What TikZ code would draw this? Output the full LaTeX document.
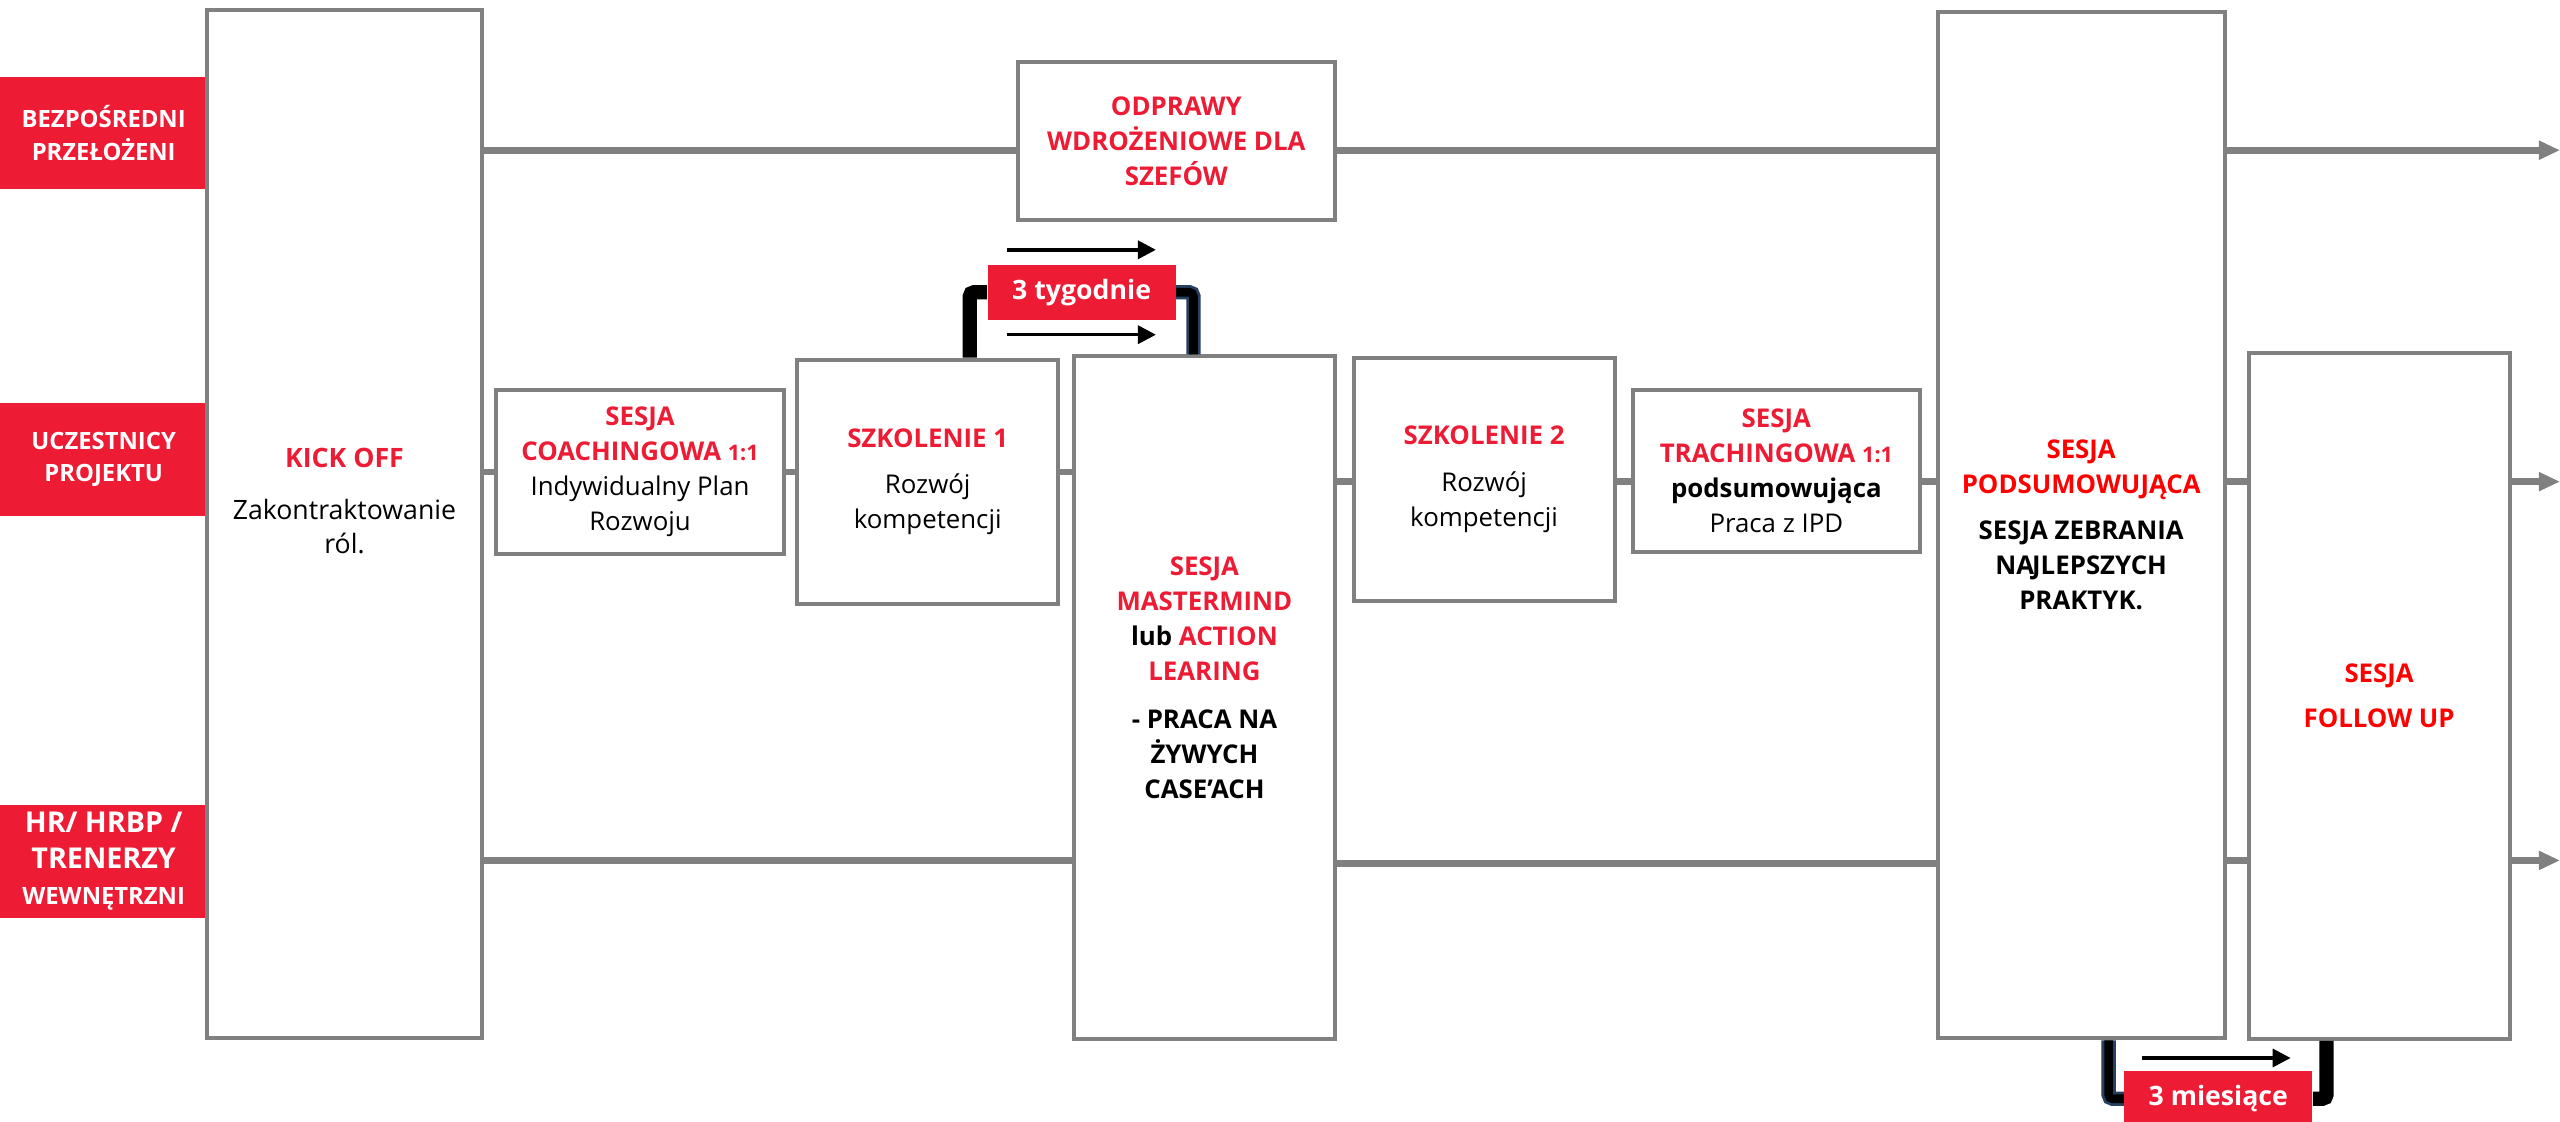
\documentclass[tikz,border=0pt]{standalone}
\usepackage{fontspec}
\setmainfont{Open Sans}
\usepackage{xcolor}
\usetikzlibrary{arrows.meta}
\definecolor{brandred}{RGB}{237,27,52}
\definecolor{linegray}{RGB}{128,128,128}
\definecolor{navyedge}{RGB}{40,64,96}
\tikzset{>={Triangle[length=2.2mm,width=2.2mm]}}
\tikzset{
  role/.style={fill=brandred,text=white,font=\bfseries\fontsize{8.3}{11.2}\selectfont,
    minimum width=2.54cm,minimum height=1.38cm,inner sep=0pt,align=center},
  phase/.style={draw=linegray,line width=1.4pt,fill=white,inner sep=0pt,align=center,
    font=\fontsize{9}{12.2}\selectfont},
  txt/.style={inner sep=0pt,align=center,font=\fontsize{9}{12.2}\selectfont},
  tag/.style={fill=brandred,text=white,font=\bfseries\fontsize{9.3}{11}\selectfont,
    minimum width=2.3cm,minimum height=0.68cm,inner sep=0pt},
  track/.style={draw=linegray,line width=2.3pt},
  trackend/.style={track,-{Triangle[length=2.6mm,width=2.2mm]}},
  spanline/.style={draw=black,line width=5pt,rounded corners=1.5pt},
  spanlinenavy/.style={draw=navyedge,line width=1pt,double=black,double distance=3pt,rounded corners=1.5pt},
  timearrow/.style={->,line width=1.2pt}
}
\newcommand\redtitle[1]{{\color{brandred}\bfseries #1}}
\newcommand\onetoone{{\fontsize{7.5}{12.2}\selectfont 1:1}}

\begin{document}
\begin{tikzpicture}[x=0.02cm,y=-0.02cm]
\useasboundingbox (0,0) rectangle (1568,687);
% rows on the left
\node[role] (rowboss) at (63.5,81.5) {BEZPOŚREDNI\\PRZEŁOŻENI};
\node[role] (rowpart) at (63.5,281.5) {UCZESTNICY\\PROJEKTU};
\node[role,font=\bfseries\fontsize{10}{12.5}\selectfont] (rowhr) at (63.5,527.5) {HR/ HRBP /\\TRENERZY\\{\fontsize{8.3}{12.5}\selectfont WEWNĘTRZNI}};
% phases
\node[phase,minimum width=3.37cm,minimum height=12.6cm] (kick) at (211,321) {};
\node[txt,font=\fontsize{9.3}{12}\selectfont] (kicktxt) at (211,307) {\redtitle{KICK OFF}\\[6pt]Zakontraktowanie\\ról.};
\node[phase,minimum width=3.88cm,minimum height=1.94cm,font=\bfseries\fontsize{9}{12.2}\selectfont,text=brandred] (odprawy) at (720.5,86.3) {ODPRAWY\\WDROŻENIOWE DLA\\SZEFÓW};
\node[phase,minimum width=3.52cm,minimum height=2.01cm] (coach) at (392,289) {\redtitle{SESJA}\\\redtitle{COACHINGOWA \onetoone}\\Indywidualny Plan\\Rozwoju};
\node[phase,minimum width=3.2cm,minimum height=3cm] (szk1) at (568.2,295.2) {\redtitle{SZKOLENIE 1}\\[4pt]Rozwój\\kompetencji};
\node[phase,minimum width=3.2cm,minimum height=8.36cm] (master) at (737.7,427.2) {};
\node[txt,font=\bfseries\fontsize{9}{12.2}\selectfont] (mastertxt) at (737.7,415) {\redtitle{SESJA}\\\redtitle{MASTERMIND}\\lub \redtitle{ACTION}\\\redtitle{LEARING}\\[4.5pt]- PRACA NA\\ŻYWYCH\\CASE’ACH};
\node[phase,minimum width=3.2cm,minimum height=2.98cm] (szk2) at (909,293.5) {\redtitle{SZKOLENIE 2}\\[4pt]Rozwój\\kompetencji};
\node[phase,minimum width=3.52cm,minimum height=1.99cm] (trach) at (1088,288.5) {\redtitle{SESJA}\\\redtitle{TRACHINGOWA \onetoone}\\\textbf{podsumowująca}\\Praca z IPD};
\node[phase,minimum width=3.52cm,minimum height=12.58cm,font=\bfseries\fontsize{9}{12.2}\selectfont] (podsum) at (1274.7,321.5) {{\color{red}SESJA}\\{\color{red}PODSUMOWUJĄCA}\\[4pt]SESJA ZEBRANIA\\NA\kern-0.7pt JLEPSZYCH\\PRAKTYK.};
\node[phase,minimum width=3.2cm,minimum height=8.4cm,font=\bfseries\fontsize{9}{12.2}\selectfont,text=red] (follow) at (1457.2,426.3) {SESJA\\[3.5pt]FOLLOW UP};
% gaps between sessions
\node[tag] (weeks) at (662.5,179) {3 tygodnie};
\node[tag] (months) at (1358.7,673) {3 miesiące};
% track levels
\coordinate (topL) at (0,92);
\coordinate (midL) at (0,289);
\coordinate (midR) at (0,295);
\coordinate (botL) at (0,527);
\coordinate (botR) at (0,529);
\coordinate (endX) at (1568,0);
\draw[track] (kick.east |- topL) -- (odprawy.west |- topL);
\draw[track] (odprawy.east |- topL) -- (podsum.west |- topL);
\draw[trackend] (podsum.east |- topL) -- (endX |- topL);
\draw[track] (kick.east |- midL) -- (coach.west |- midL);
\draw[track] (coach.east |- midL) -- (szk1.west |- midL);
\draw[track] (szk1.east |- midL) -- (master.west |- midL);
\draw[track] (master.east |- midR) -- (szk2.west |- midR);
\draw[track] (szk2.east |- midR) -- (trach.west |- midR);
\draw[track] (trach.east |- midR) -- (podsum.west |- midR);
\draw[track] (podsum.east |- midR) -- (follow.west |- midR);
\draw[trackend] (follow.east |- midR) -- (endX |- midR);
\draw[track] (kick.east |- botL) -- (master.west |- botL);
\draw[track] (master.east |- botR) -- (podsum.west |- botR);
\draw[track] (podsum.east |- botL) -- (follow.west |- botL);
\draw[trackend] (follow.east |- botL) -- (endX |- botL);
% brackets and time arrows
\coordinate (wkL) at (594,0);
\coordinate (wkR) at (731,0);
\coordinate (moL) at (1291.5,0);
\coordinate (moR) at (1425,0);
\draw[spanline] (szk1.north -| wkL) |- (weeks.west);
\draw[spanlinenavy] (master.north -| wkR) |- (weeks.east);
\draw[spanlinenavy] (podsum.south -| moL) |- (months.west);
\draw[spanline] (follow.south -| moR) |- (months.east);
\coordinate (wkA1) at (617,153); \coordinate (wkB1) at (708,153);
\coordinate (wkA2) at (617,205); \coordinate (wkB2) at (708,205);
\coordinate (moA) at (1312,648); \coordinate (moB) at (1403,648);
\draw[timearrow] (wkA1) -- (wkB1);
\draw[timearrow] (wkA2) -- (wkB2);
\draw[timearrow] (moA) -- (moB);
\end{tikzpicture}
\end{document}
